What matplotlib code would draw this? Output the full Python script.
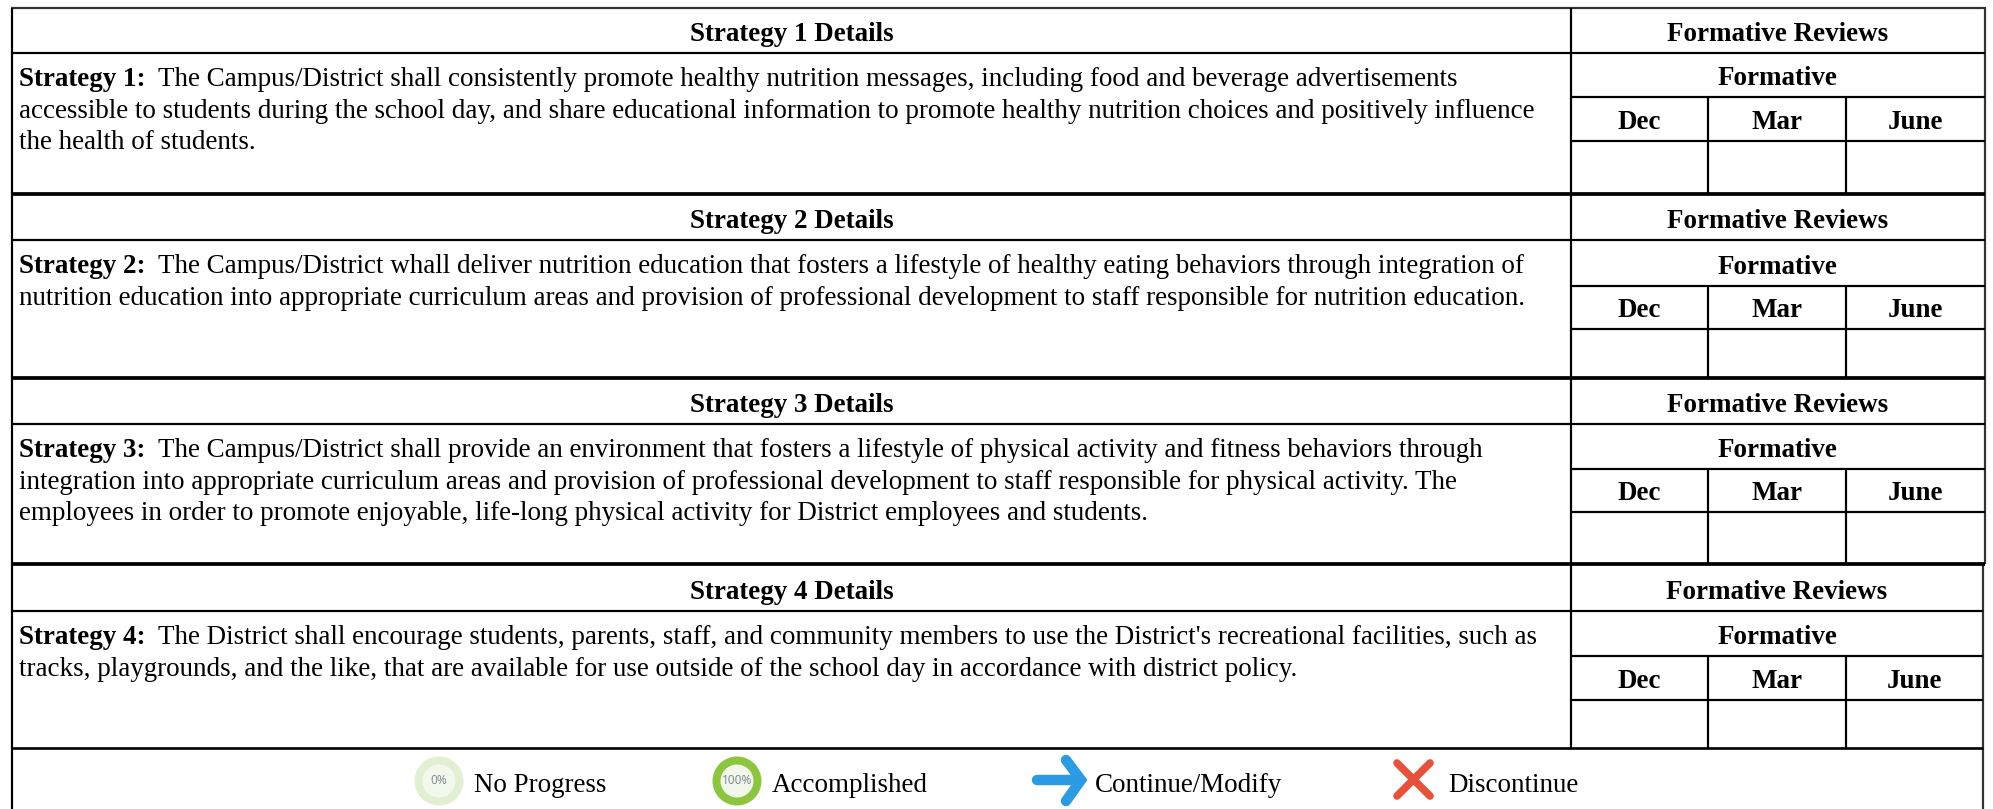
import matplotlib
matplotlib.use("Agg")
import matplotlib.pyplot as plt
from matplotlib.patches import Circle

plt.rcParams['font.family'] = ['Liberation Serif', 'DejaVu Serif']

W, H = 1993, 809
FS = 19.45
DPI = 100

months = ["Dec", "Mar", "June"]
header_right = "Formative Reviews"
sub_right = "Formative"
strategy_labels = ["Strategy 1:", "Strategy 2:", "Strategy 3:", "Strategy 4:"]
strategy_headers = ["Strategy 1 Details", "Strategy 2 Details", "Strategy 3 Details", "Strategy 4 Details"]
strategy_lines = [
    ["The Campus/District shall consistently promote healthy nutrition messages, including food and beverage advertisements",
     "accessible to students during the school day, and share educational information to promote healthy nutrition choices and positively influence",
     "the health of students."],
    ["The Campus/District whall deliver nutrition education that fosters a lifestyle of healthy eating behaviors through integration of",
     "nutrition education into appropriate curriculum areas and provision of professional development to staff responsible for nutrition education."],
    ["The Campus/District shall provide an environment that fosters a lifestyle of physical activity and fitness behaviors through",
     "integration into appropriate curriculum areas and provision of professional development to staff responsible for physical activity. The",
     "employees in order to promote enjoyable, life-long physical activity for District employees and students."],
    ["The District shall encourage students, parents, staff, and community members to use the District's recreational facilities, such as",
     "tracks, playgrounds, and the like, that are available for use outside of the school day in accordance with district policy."],
]
legend_labels = ["No Progress", "Accomplished", "Continue/Modify", "Discontinue"]

# table geometry in pixels
block_rows = [
    (8, 53, 97, 141, 194),
    (194, 240, 286, 329, 378),
    (378, 424, 469, 512, 564),
    (564, 611, 656, 700, 748),
]
X_L, X_M = 12, 1571
X_R_TOP, X_R_LOW = 1985, 1983
X_D = [1708, 1846]
LW = 2.2 / DPI * 72

fig = plt.figure(figsize=(W / DPI, H / DPI), dpi=DPI)
ax = fig.add_axes([0, 0, 1, 1])
ax.set_xlim(0, W)
ax.set_ylim(H, 0)
ax.axis("off")


def hl(y, x0, x1, lw=LW):
    ax.plot([x0, x1], [y, y], color="black", lw=lw, solid_capstyle="butt")


def vl(x, y0, y1, lw=LW, color="black"):
    ax.plot([x, x], [y0, y1], color=color, lw=lw, solid_capstyle="butt")


ax.plot([X_L - 1, X_R_TOP + 1], [8, 8], color="#333333", lw=LW, solid_capstyle="butt")
vl(X_L, 8, H)
vl(X_R_TOP, 8, 564, color="#333333")
vl(X_R_LOW, 564, H, color="#333333")
vl(X_M, 8, 748)

fig.canvas.draw()
renderer = fig.canvas.get_renderer()
for i, (y0, y1, y2, y3, y4) in enumerate(block_rows):
    xr = X_R_LOW if i == 3 else X_R_TOP
    hl(y1, X_L, xr)
    hl(y2, X_M, xr)
    hl(y3, X_M, xr)
    hl(y4, X_L, xr, lw=LW * (1.7 if i < 3 else 1.2))
    for xd in X_D:
        vl(xd, y2, y4)
    ax.text((X_L + X_M) / 2, y1 - 12, strategy_headers[i], fontsize=FS, weight="bold", ha="center", va="baseline")
    cx = 1777.5
    ax.text(cx - (1 if i == 3 else 0), y1 - 12, header_right, fontsize=FS, weight="bold", ha="center", va="baseline")
    ax.text(cx, y2 - 12, sub_right, fontsize=FS, weight="bold", ha="center", va="baseline")
    edges = [X_M, X_D[0], X_D[1], xr]
    for j, m in enumerate(months):
        ax.text((edges[j] + edges[j + 1]) / 2, y3 - 12, m, fontsize=FS, weight="bold", ha="center", va="baseline")
    base = y1 + 33
    lab = ax.text(19, base, strategy_labels[i], fontsize=FS, weight="bold", ha="left", va="baseline")
    x_end = lab.get_window_extent(renderer).x1
    for k, line in enumerate(strategy_lines[i]):
        x = x_end + 13 if k == 0 else 19
        ax.text(x, base + k * 31.5, line, fontsize=FS, ha="left", va="baseline")

# legend
cy = 781
small = dict(fontsize=8.5, weight="bold", family="Noto Sans", ha="center", va="center")
ax.add_patch(Circle((439, cy), 24.5, fc="#e3efd3", ec="none"))
ax.add_patch(Circle((439, cy), 16.5, fc="#f3f8ec", ec="none"))
ax.text(439, cy, "0%", color="#858f98", **small)
ax.add_patch(Circle((737, cy), 24.5, fc="#8cc63f", ec="none"))
ax.add_patch(Circle((737, cy), 16.5, fc="#f1f7ea", ec="none"))
ax.text(737, cy, "100%", color="#7d8a94", **small)

blue = "#2b9be6"
ax.plot([1037, 1080], [780, 780], color=blue, lw=7.5, solid_capstyle="round")
ax.plot([1066, 1081, 1066], [760, 780, 801], color=blue, lw=7.5, solid_capstyle="round", solid_joinstyle="miter")
red = "#e8503a"
ax.plot([1397, 1430], [763, 796], color=red, lw=5.5, solid_capstyle="round")
ax.plot([1430, 1397], [763, 796], color=red, lw=5.5, solid_capstyle="round")

for x, t in zip([474, 772, 1095, 1448], legend_labels):
    ax.text(x, 792, t, fontsize=FS, ha="left", va="baseline")

fig.savefig("out.png", dpi=DPI)
